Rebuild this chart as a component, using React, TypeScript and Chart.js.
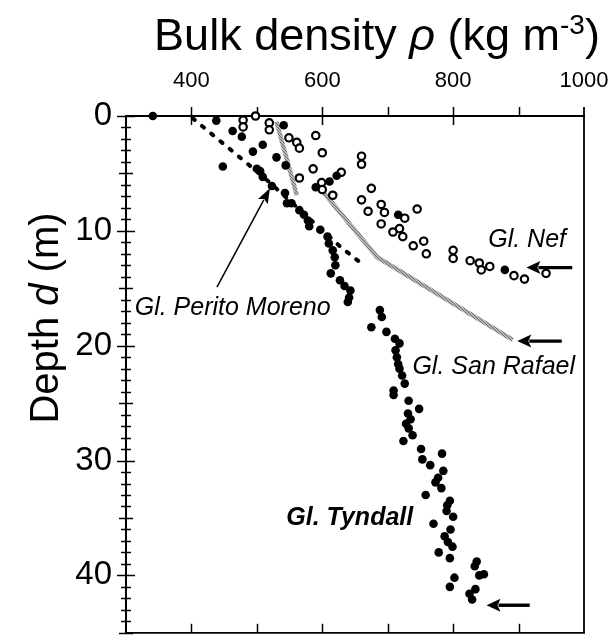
import React, { useEffect, useRef } from 'react';
import { Chart, registerables } from 'chart.js';

Chart.register(...registerables);

// ---------------- data ----------------
const xTickLabels = [400, 600, 800, 1000];
const yTickLabels = [0, 10, 20, 30, 40];

// Gl. Tyndall (filled circles): density (kg m-3), depth (m)
const tyndallDensity = [
  341, 438, 541, 463, 477, 509, 494, 530, 544, 448, 500, 505, 509, 622, 611, 590, 523, 543, 546, 553,
  565, 572, 578, 580, 597, 608, 610, 616, 619, 620, 613, 627, 634, 643, 641, 639, 688, 691, 675, 698,
  711, 718, 712, 714, 716, 718, 722, 726, 709, 709, 732, 748, 731, 735, 728, 732, 738, 724, 751, 783,
  753, 765, 785, 777, 773, 782, 758, 795, 791, 790, 800, 770, 796, 787, 792, 799, 778, 795, 836, 833,
  847, 840, 802, 795, 834, 825, 829,
];
const tyndallDepth = [
  0.0, 0.4, 0.8, 1.3, 1.8, 2.5, 3.1, 3.6, 4.3, 4.4, 4.6, 4.8, 5.3, 5.2, 5.7, 6.2, 6.1, 6.7, 7.6, 7.6,
  8.2, 8.6, 9.1, 9.6, 9.9, 10.5, 11.1, 11.7, 12.3, 13.0, 13.7, 14.3, 14.8, 15.2, 15.8, 16.2, 16.9, 17.5, 18.4, 18.8,
  19.4, 19.8, 20.4, 21.0, 21.6, 22.0, 22.6, 23.3, 23.9, 24.3, 24.8, 25.5, 25.9, 26.4, 26.8, 27.2, 27.8, 28.3, 29.0, 29.4,
  29.9, 30.4, 30.9, 31.5, 31.9, 32.4, 33.0, 33.5, 33.9, 34.4, 34.9, 35.5, 36.0, 36.6, 37.1, 37.5, 38.0, 38.5, 38.8, 39.2,
  39.9, 40.0, 40.2, 41.0, 41.2, 41.6, 42.1,
];

// Gl. Nef (open circles)
const nefDensity = [
  498, 479, 479, 519, 519, 549, 561, 565, 590, 600, 660, 660, 586, 629, 565, 599, 600, 616, 675, 660,
  670, 690, 695, 745, 726, 690, 718, 708, 723, 739, 755, 759, 800, 800, 826, 840, 843, 856, 893, 909, 942,
];
const nefDepth = [
  0.0, 0.35, 0.95, 0.6, 1.2, 1.9, 2.3, 2.8, 1.7, 3.2, 3.5, 4.2, 4.6, 4.9, 5.4, 5.8, 6.4, 6.9, 6.3, 7.3,
  8.3, 7.7, 8.4, 8.1, 8.9, 9.4, 9.8, 10.1, 10.5, 11.3, 10.9, 12.0, 11.7, 12.4, 12.6, 12.8, 13.4, 13.1, 13.9, 14.2, 13.7,
];
// Gl. Nef samples drawn solid
const nefSolidDensity = [716, 879];
const nefSolidDepth = [8.6, 13.4];

// Gl. San Rafael (grey profile lines)
const sanRafaelUpperDensity = [530, 561];
const sanRafaelUpperDepth = [0.5, 6.9];
const sanRafaelLowerDensity = [598, 684, 891];
const sanRafaelLowerDepth = [6.4, 12.3, 19.5];

// Gl. Perito Moreno (dashed profile)
const peritoDensity = [402, 510, 626, 659];
const peritoDepth = [0.2, 5.3, 11.3, 12.8];

// annotation labels (data coordinates)
const labelTexts = ['Gl. Nef', 'Gl. Perito Moreno', 'Gl. San Rafael', 'Gl. Tyndall'];
const labelDensity = [913, 463, 862, 642];
const labelDepth = [11.43, 17.36, 22.5, 35.6];
const labelBold = [false, false, false, true];

// arrows: tail -> tip (data coordinates)
const arrowTailDensity = [439, 982, 966, 917];
const arrowTailDepth = [14.9, 13.2, 19.6, 42.6];
const arrowTipDensity = [520, 912, 898, 851];
const arrowTipDepth = [6.3, 13.2, 19.6, 42.6];
const arrowThick = [false, true, true, true];

const FONT = '"Liberation Sans", Arial, Helvetica, sans-serif';

const pts = (xs: number[], ys: number[]) => xs.map((v, i) => ({ x: v, y: ys[i] }));

function drawArrow(ctx: CanvasRenderingContext2D, x1: number, y1: number, x2: number, y2: number, lw: number, headLen: number, headHalf: number) {
  const ang = Math.atan2(y2 - y1, x2 - x1);
  const bx = x2 - headLen * Math.cos(ang);
  const by = y2 - headLen * Math.sin(ang);
  ctx.save();
  ctx.strokeStyle = '#000';
  ctx.fillStyle = '#000';
  ctx.lineWidth = lw;
  ctx.beginPath();
  ctx.moveTo(x1, y1);
  ctx.lineTo(bx + Math.cos(ang) * 2, by + Math.sin(ang) * 2);
  ctx.stroke();
  ctx.beginPath();
  ctx.moveTo(x2, y2);
  ctx.lineTo(bx + headHalf * Math.sin(ang), by - headHalf * Math.cos(ang));
  ctx.lineTo(bx + Math.cos(ang) * 3, by + Math.sin(ang) * 3);
  ctx.lineTo(bx - headHalf * Math.sin(ang), by + headHalf * Math.cos(ang));
  ctx.closePath();
  ctx.fill();
  ctx.restore();
}

type Seg = { t: string; italic?: boolean; scale?: number; dy?: number };

function drawRich(ctx: CanvasRenderingContext2D, segs: Seg[], size: number, cx: number, baseY: number) {
  const fontOf = (s: Seg) => `${s.italic ? 'italic ' : ''}${Math.round(size * (s.scale || 1))}px ${FONT}`;
  let total = 0;
  const widths = segs.map((s) => {
    ctx.font = fontOf(s);
    const w = ctx.measureText(s.t).width;
    total += w;
    return w;
  });
  let x = cx - total / 2;
  ctx.textAlign = 'left';
  ctx.textBaseline = 'alphabetic';
  segs.forEach((s, i) => {
    ctx.font = fontOf(s);
    ctx.fillText(s.t, x, baseY + (s.dy || 0) * size);
    x += widths[i];
  });
}

const decor = {
  id: 'decor',
  beforeDatasetsDraw(chart: any) {
    const { ctx, chartArea: a, scales } = chart;
    const xs = scales.x;
    const ys = scales.y;
    ctx.save();
    ctx.strokeStyle = '#000';
    ctx.lineCap = 'butt';
    // right & bottom axis lines
    ctx.lineWidth = 1.8;
    ctx.beginPath();
    ctx.moveTo(a.right, a.top - 9);
    ctx.lineTo(a.right, a.bottom);
    ctx.moveTo(a.left - 1, a.bottom);
    ctx.lineTo(a.right + 1, a.bottom);
    ctx.stroke();
    // top ticks
    ctx.lineWidth = 1.5;
    for (let v = 400; v <= 900; v += 100) {
      const px = Math.round(xs.getPixelForValue(v)) + 0.5;
      const major = v % 200 === 0;
      ctx.beginPath();
      ctx.moveTo(px, a.top - 9);
      ctx.lineTo(px, major ? a.top + 9 : a.top);
      ctx.stroke();
      // bottom ticks (pointing up)
      ctx.beginPath();
      ctx.moveTo(px, a.bottom - 9);
      ctx.lineTo(px, a.bottom);
      ctx.stroke();
    }
    // left ticks crossing the axis
    for (let d = 0; d <= 45; d += 1) {
      const py = Math.round(ys.getPixelForValue(d)) + 0.5;
      const len = d % 10 === 0 ? 9 : d % 5 === 0 ? 7 : 5;
      ctx.beginPath();
      ctx.moveTo(a.left - len, py);
      ctx.lineTo(a.left + len, py);
      ctx.stroke();
    }
    ctx.restore();
  },
  afterDatasetsDraw(chart: any) {
    const { ctx, scales } = chart;
    const xs = scales.x;
    const ys = scales.y;
    ctx.save();
    ctx.fillStyle = '#000';
    // axis titles
    drawRich(
      ctx,
      [
        { t: 'Bulk density ' },
        { t: 'ρ', italic: true },
        { t: ' (kg m' },
        { t: '-3', scale: 0.62, dy: -0.36 },
        { t: ')' },
      ],
      45,
      377,
      50
    );
    ctx.save();
    ctx.translate(58, 318);
    ctx.rotate(-Math.PI / 2);
    drawRich(ctx, [{ t: 'Depth ' }, { t: 'd', italic: true }, { t: ' (m)' }], 40, 0, 0);
    ctx.restore();
    // glacier labels
    labelTexts.forEach((t, i) => {
      ctx.font = `italic ${labelBold[i] ? 'bold ' : ''}25px ${FONT}`;
      ctx.textAlign = 'center';
      ctx.textBaseline = 'alphabetic';
      ctx.fillText(t, xs.getPixelForValue(labelDensity[i]), ys.getPixelForValue(labelDepth[i]));
    });
    // arrows
    arrowTailDensity.forEach((_, i) => {
      const x1 = xs.getPixelForValue(arrowTailDensity[i]);
      const y1 = ys.getPixelForValue(arrowTailDepth[i]);
      const x2 = xs.getPixelForValue(arrowTipDensity[i]);
      const y2 = ys.getPixelForValue(arrowTipDepth[i]);
      if (arrowThick[i]) drawArrow(ctx, x1, y1, x2, y2, 3.4, 14, 6.5);
      else drawArrow(ctx, x1, y1, x2, y2, 1.5, 15, 5.5);
    });
    ctx.restore();
  },
};

export default function App() {
  const ref = useRef<HTMLCanvasElement | null>(null);
  useEffect(() => {
    document.body.style.margin = '0';
    const canvas = ref.current;
    if (!canvas) return;
    const pc = document.createElement('canvas');
    pc.width = 3;
    pc.height = 3;
    const pctx = pc.getContext('2d')!;
    pctx.fillStyle = '#b8b8b8';
    pctx.fillRect(0, 0, 3, 3);
    pctx.fillStyle = '#6e6e6e';
    pctx.fillRect(0, 0, 1, 1);
    pctx.fillRect(1, 1, 1, 1);
    pctx.fillRect(2, 2, 1, 1);
    const grey = canvas.getContext('2d')!.createPattern(pc, 'repeat') as any;

    const chart = new Chart(canvas, {
      type: 'scatter',
      data: {
        datasets: [
          {
            label: 'Gl. Tyndall',
            data: pts(tyndallDensity, tyndallDepth),
            pointRadius: 4.3,
            pointBackgroundColor: '#000',
            pointBorderColor: '#000',
            pointBorderWidth: 0,
            clip: false as any,
            order: 0,
          },
          {
            label: 'Gl. Nef (solid)',
            data: pts(nefSolidDensity, nefSolidDepth),
            pointRadius: 4.3,
            pointBackgroundColor: '#000',
            pointBorderColor: '#000',
            pointBorderWidth: 0,
            clip: false as any,
            order: 0,
          },
          {
            label: 'Gl. Nef',
            data: pts(nefDensity, nefDepth),
            pointRadius: 3.7,
            pointBackgroundColor: '#fff',
            pointBorderColor: '#000',
            pointBorderWidth: 2.2,
            clip: false as any,
            order: 1,
          },
          {
            label: 'Gl. Perito Moreno',
            data: pts(peritoDensity, peritoDepth),
            showLine: true,
            borderColor: '#000',
            borderWidth: 4,
            borderDash: [2.5, 9.5],
            borderCapStyle: 'round',
            pointRadius: 0,
            order: 2,
          },
          {
            label: 'Gl. San Rafael',
            data: pts(sanRafaelUpperDensity, sanRafaelUpperDepth),
            showLine: true,
            borderColor: grey,
            borderWidth: 4.5,
            pointRadius: 0,
            order: 3,
          },
          {
            label: 'Gl. San Rafael (deep)',
            data: pts(sanRafaelLowerDensity, sanRafaelLowerDepth),
            showLine: true,
            borderColor: grey,
            borderWidth: 4.5,
            pointRadius: 0,
            order: 3,
          },
        ] as any,
      },
      options: {
        responsive: false,
        animation: false,
        events: [],
        layout: { padding: { top: 0, left: 0, right: 31, bottom: 3 } },
        plugins: { legend: { display: false }, tooltip: { enabled: false }, title: { display: false } },
        scales: {
          x: {
            type: 'linear',
            position: 'top',
            min: 300,
            max: 1000,
            grid: { display: false, drawTicks: false },
            border: { display: true, color: '#000', width: 2 },
            ticks: {
              stepSize: 100,
              autoSkip: false,
              maxRotation: 0,
              padding: 22,
              color: '#000',
              font: { family: FONT, size: 22 },
              callback: (v: any) => (xTickLabels.includes(Number(v)) ? String(v) : ''),
            },
            afterFit: (s: any) => {
              s.height = 116;
              s.paddingLeft = 0;
              s.paddingRight = 0;
              s.paddingTop = 0;
              s.paddingBottom = 0;
            },
          },
          y: {
            type: 'linear',
            position: 'left',
            reverse: true,
            min: 0,
            max: 45,
            grid: { display: false, drawTicks: false },
            border: { display: true, color: '#000', width: 2 },
            ticks: {
              stepSize: 5,
              autoSkip: false,
              padding: 14,
              color: '#000',
              font: { family: FONT, size: 33 },
              callback: (v: any) => (yTickLabels.includes(Number(v)) ? String(v) : ''),
            },
            afterFit: (s: any) => {
              s.width = 126;
              s.paddingLeft = 0;
              s.paddingRight = 0;
              s.paddingTop = 0;
              s.paddingBottom = 0;
            },
          },
        },
      } as any,
      plugins: [decor as any],
    });
    return () => chart.destroy();
  }, []);
  return <canvas ref={ref} width={615} height={639} style={{ display: 'block' }} />;
}
